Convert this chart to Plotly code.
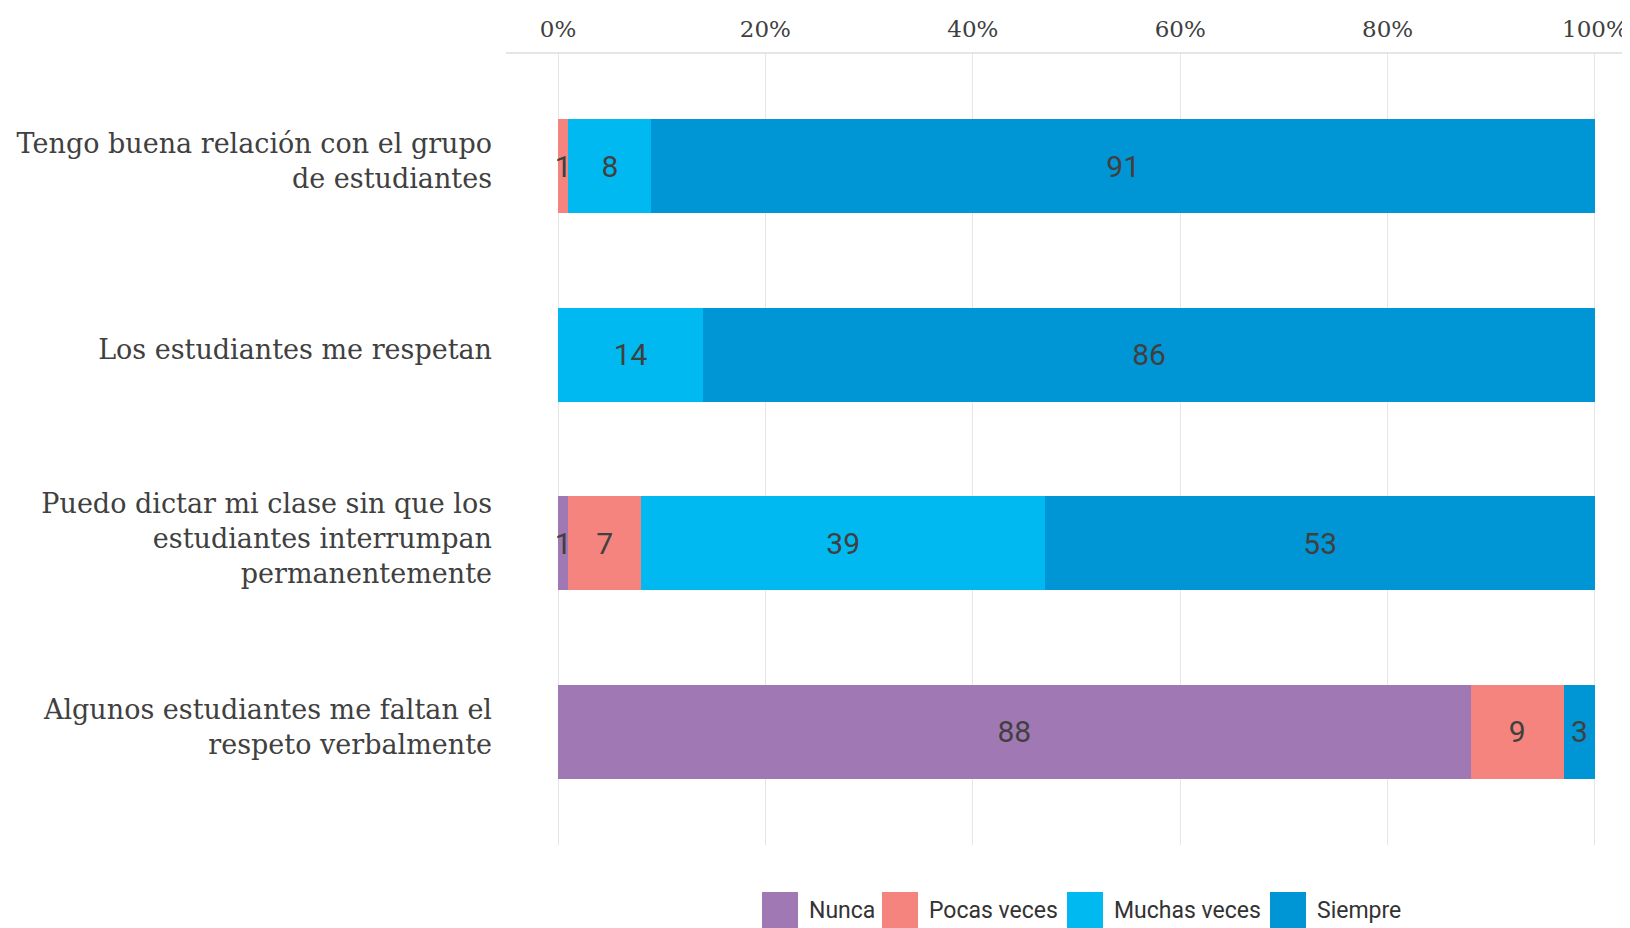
import plotly.graph_objects as go

categories = [
    "Tengo buena relación con el grupo<br>de estudiantes",
    "Los estudiantes me respetan",
    "Puedo dictar mi clase sin que los<br>estudiantes interrumpan<br>permanentemente",
    "Algunos estudiantes me faltan el<br>respeto verbalmente",
]
series_names = ["Nunca", "Pocas veces", "Muchas veces", "Siempre"]
nunca = [0, 0, 1, 88]
pocas = [1, 0, 7, 9]
muchas = [8, 14, 39, 0]
siempre = [91, 86, 53, 3]
colors = ["#A078B4", "#F5847F", "#00B9F0", "#0096D6"]
tick_vals = [0, 20, 40, 60, 80, 100]
tick_text = ["0%", "20%", "40%", "60%", "80%", "100%"]

W, H = 1630, 928
L, R, T, B = 549, 42, 45, 91
PW, PH = W - L - R, H - T - B

fig = go.Figure()
for name, vals, col in zip(series_names, [nunca, pocas, muchas, siempre], colors):
    fig.add_trace(go.Bar(
        y=categories, x=vals, name=name, orientation="h",
        marker=dict(color=col, line=dict(width=0)),
        width=0.5,
        text=[str(v) if v > 0 else "" for v in vals],
        textposition="inside", insidetextanchor="middle",
        textfont=dict(family="Roboto", size=30, color="#404040"),
        showlegend=False, hoverinfo="skip",
    ))

fig.update_layout(
    barmode="stack",
    width=W, height=H,
    margin=dict(l=L, r=R, t=T, b=B, autoexpand=False),
    paper_bgcolor="white", plot_bgcolor="white",
    uniformtext=dict(minsize=30, mode="show"),
    xaxis=dict(
        side="top", range=[-0.1, 100.1], tickvals=tick_vals, ticktext=tick_text,
        showgrid=True, gridcolor="#e6e6e6", gridwidth=1,
        zeroline=True, zerolinecolor="#e6e6e6", zerolinewidth=1,
        showline=False, ticks="", ticklabelstandoff=10, ticklabeloverflow="allow",
        tickfont=dict(family="DejaVu Serif", size=23, color="#404040"),
        fixedrange=True, automargin=False,
    ),
    yaxis=dict(
        autorange=False, range=[3.6, -0.6], categoryorder="array", categoryarray=categories,
        showgrid=False, zeroline=False, showline=False, ticks="",
        ticklabelstandoff=64, ticklabelshift=5,
        tickfont=dict(family="DejaVu Serif", size=27, color="#404040"),
        fixedrange=True, automargin=False,
    ),
    font=dict(family="Roboto", color="#404040"),
)

# top axis line (extends left of plot area)
fig.add_shape(type="line", xref="paper", yref="paper",
              x0=(498 - L) / PW, x1=(W - L) / PW, y0=1, y1=1,
              line=dict(color="#dcdcdc", width=1.5))

# custom legend
sw_x = [754, 874, 1059, 1262]
sw = 36
for name, col, x0 in zip(series_names, colors, sw_x):
    fig.add_shape(type="rect", xref="paper", yref="paper",
                  x0=(x0 - L) / PW, x1=(x0 + sw - L) / PW,
                  y0=(H - B - 920) / PH, y1=(H - B - 884) / PH,
                  fillcolor=col, line=dict(width=0), layer="above")
    fig.add_annotation(xref="paper", yref="paper",
                       x=(x0 + sw + 9 - L) / PW, y=(H - B - 902) / PH,
                       text=name, showarrow=False, xanchor="left", yanchor="middle",
                       font=dict(family="Roboto", size=23, color="#333333"))

fig.write_html("out.html")
